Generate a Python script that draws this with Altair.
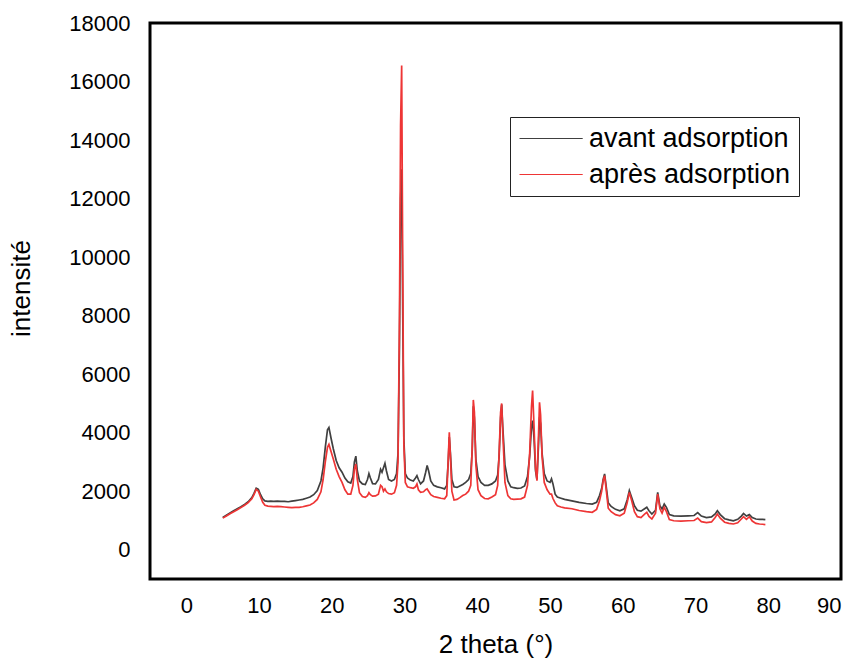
import altair as alt
import pandas as pd

# 2-theta positions (degrees)
theta = [5.0, 5.5, 6.0, 6.5, 7.0, 7.5, 8.0, 8.5, 9.0, 9.3, 9.6, 9.9, 10.2, 10.5, 10.8, 11.2, 11.6, 12.0, 12.5, 13.0,
         13.5, 14.0, 14.5, 15.0, 15.5, 16.0, 16.5, 17.0, 17.5, 18.0, 18.5, 18.8, 19.1, 19.4, 19.6, 19.9, 20.2, 20.6, 21.0, 21.4,
         21.8, 22.2, 22.6, 22.9, 23.1, 23.3, 23.5, 23.8, 24.2, 24.6, 24.9, 25.1, 25.3, 25.6, 26.0, 26.4, 26.7, 26.9, 27.1, 27.3,
         27.5, 27.8, 28.2, 28.6, 28.9, 29.1, 29.3, 29.45, 29.6, 29.75, 29.9, 30.1, 30.4, 30.8, 31.2, 31.5, 31.7, 31.9, 32.2, 32.6,
         32.9, 33.1, 33.3, 33.6, 34.0, 34.5, 35.0, 35.5, 35.8, 36.0, 36.15, 36.3, 36.5, 36.8, 37.2, 37.6, 38.0, 38.4, 38.8, 39.1,
         39.3, 39.45, 39.6, 39.8, 40.1, 40.5, 41.0, 41.5, 42.0, 42.5, 42.8, 43.0, 43.2, 43.35, 43.5, 43.8, 44.2, 44.6, 45.0, 45.5,
         46.0, 46.5, 46.9, 47.2, 47.45, 47.6, 47.8, 48.0, 48.2, 48.4, 48.55, 48.7, 48.9, 49.2, 49.6, 50.0, 50.2, 50.4, 50.7, 51.0,
         51.5, 52.0, 53.0, 54.0, 55.0, 55.8, 56.4, 56.8, 57.1, 57.3, 57.5, 57.7, 58.0, 58.4, 59.0, 59.6, 60.2, 60.6, 60.9, 61.2,
         61.6, 62.0, 62.5, 63.0, 63.3, 63.6, 64.0, 64.5, 64.8, 65.1, 65.4, 65.7, 66.0, 66.4, 67.0, 68.0, 69.0, 69.8, 70.3, 70.8,
         71.5, 72.2, 72.7, 73.0, 73.4, 74.0, 74.6, 75.2, 75.8, 76.3, 76.6, 77.0, 77.4, 77.8, 78.3, 78.8, 79.2, 79.6]

# intensity before adsorption
avant = [1100, 1180, 1260, 1330, 1400, 1470, 1550, 1640, 1780, 1930, 2100, 2060, 1880, 1740, 1670, 1650, 1660, 1650, 1660, 1650,
         1650, 1640, 1660, 1680, 1700, 1720, 1760, 1800, 1880, 2020, 2350, 2800, 3500, 4100, 4180, 3800, 3450, 3050, 2800, 2650,
         2450, 2320, 2280, 2500, 3000, 3200, 2700, 2350, 2250, 2230, 2400, 2600, 2450, 2260, 2250, 2400, 2750, 2650, 2800, 2950,
         2700, 2400, 2350, 2400, 2600, 3300, 7000, 12000, 13000, 8000, 3800, 2600, 2450, 2380, 2350, 2450, 2530, 2400, 2250, 2350,
         2650, 2880, 2700, 2350, 2200, 2150, 2120, 2080, 2200, 3000, 3850, 3300, 2400, 2150, 2130, 2180, 2230, 2300, 2400, 2600,
         3400, 4900, 4500, 3100, 2500, 2300, 2200, 2200, 2250, 2350, 2550, 3200, 4500, 4960, 4200, 2900, 2350, 2150, 2120, 2100,
         2110, 2180, 2500, 3200, 4200, 4410, 3800, 2700, 2400, 3500, 4530, 4300, 3300, 2600, 2350, 2300, 2420, 2250, 1900, 1800,
         1760, 1720, 1670, 1620, 1580, 1560, 1620, 1850, 2100, 2400, 2590, 2200, 1600, 1480, 1380, 1330, 1400, 1700, 2020, 1800,
         1500, 1350, 1320, 1400, 1450, 1330, 1220, 1350, 1960, 1500, 1390, 1560, 1450, 1200, 1160, 1150, 1160, 1170, 1270, 1150,
         1100, 1120, 1220, 1330, 1200, 1060, 1020, 990, 1040, 1150, 1240, 1150, 1200, 1100, 1050, 1040, 1040, 1030]

# intensity after adsorption
apres = [1080, 1150, 1230, 1300, 1370, 1440, 1520, 1610, 1740, 1880, 2060, 2000, 1800, 1620, 1520, 1490, 1480, 1470, 1480, 1470,
         1460, 1450, 1440, 1450, 1450, 1470, 1500, 1530, 1600, 1720, 1980, 2400, 3000, 3500, 3600, 3350, 3100, 2750, 2500, 2300,
         2050, 1900, 1900, 2200, 2750, 2930, 2400, 1950, 1820, 1790, 1850, 1950, 1880, 1830, 1840, 1900, 2200, 2150, 2000, 2080,
         1980, 1920, 1900, 1950, 2200, 3000, 8000, 14500, 16550, 9500, 3600, 2300, 2150, 2120, 2100, 2150, 2250, 2050, 1960, 1980,
         2050, 2080, 2000, 1880, 1820, 1790, 1760, 1740, 1850, 3100, 4010, 3200, 2000, 1700, 1720, 1780, 1850, 1900, 2000, 2200,
         3500, 5120, 4700, 2900, 2050, 1850, 1750, 1740, 1800, 1880, 2200, 3300, 4700, 5000, 4000, 2300, 1850, 1740, 1720, 1730,
         1740, 1800, 2200, 3300, 4900, 5440, 4200, 2800, 2360, 3800, 5040, 4600, 3200, 2300, 2050, 1900, 1900, 1750, 1600, 1500,
         1460, 1430, 1400, 1340, 1300, 1280, 1380, 1670, 2000, 2350, 2530, 2100, 1420, 1300, 1200, 1160, 1250, 1600, 1960, 1700,
         1300, 1130, 1100, 1220, 1280, 1140, 1050, 1250, 1900, 1400, 1250, 1450, 1300, 1030, 990, 980, 990, 1000, 1080, 960,
         930, 950, 1100, 1220, 1080, 940, 900, 880, 920, 1050, 1130, 1040, 1130, 980, 900, 880, 870, 860]

series = ["avant adsorption", "après adsorption"]
colors = ["#404040", "#ee3535"]
x_ticks = [0, 10, 20, 30, 40, 50, 60, 70, 80, 90]
y_ticks = [0, 2000, 4000, 6000, 8000, 10000, 12000, 14000, 16000, 18000]

rows = []
for s, vals in zip(series, [avant, apres]):
    for t, v in zip(theta, vals):
        rows.append({"theta": t, "intensite": v, "serie": s})
df = pd.DataFrame(rows)

FONT = "Liberation Sans"

chart = alt.Chart(df).mark_line(strokeWidth=1.7, clip=True).encode(
    x=alt.X("theta:Q",
            scale=alt.Scale(domain=[-5, 90], nice=False, zero=False),
            axis=alt.Axis(values=x_ticks, title="2 theta (°)", grid=False, ticks=False, domain=False,
                          labelFontSize=22, labelPadding=16, labelColor="black", labelFont=FONT,
                          titleFont=FONT, titleFontSize=26, titleFontWeight="normal", titleColor="black",
                          titlePadding=15)),
    y=alt.Y("intensite:Q",
            scale=alt.Scale(domain=[-1000, 18000], nice=False, zero=False),
            axis=alt.Axis(values=y_ticks, format="d", title="intensité", grid=False, ticks=False, domain=False,
                          labelFontSize=22, labelPadding=20, labelColor="black", labelFont=FONT,
                          titleFont=FONT, titleFontSize=26, titleFontWeight="normal", titleColor="black",
                          titleX=-116, titleY=265)),
    color=alt.Color("serie:N",
                    scale=alt.Scale(domain=series, range=colors),
                    sort=series,
                    legend=alt.Legend(title=None, orient="none", legendX=360, legendY=94,
                                      symbolType="M-1.5,0H6.4", symbolSize=256, symbolStrokeWidth=1.2,
                                      labelFontSize=27, labelFont=FONT, labelColor="black", labelLimit=0,
                                      labelOffset=44, rowPadding=8, padding=8,
                                      strokeColor="#222222", fillColor="white")),
    order=alt.Order("theta:Q"),
).properties(
    width=691,
    height=556,
    background="white",
    autosize=alt.AutoSizeParams(type="none"),
    padding={"left": 150, "top": 23, "right": 13, "bottom": 87},
).configure_view(
    stroke="black", strokeWidth=3
)

chart.save("out.html", embed_options={"renderer": "svg", "actions": False})
